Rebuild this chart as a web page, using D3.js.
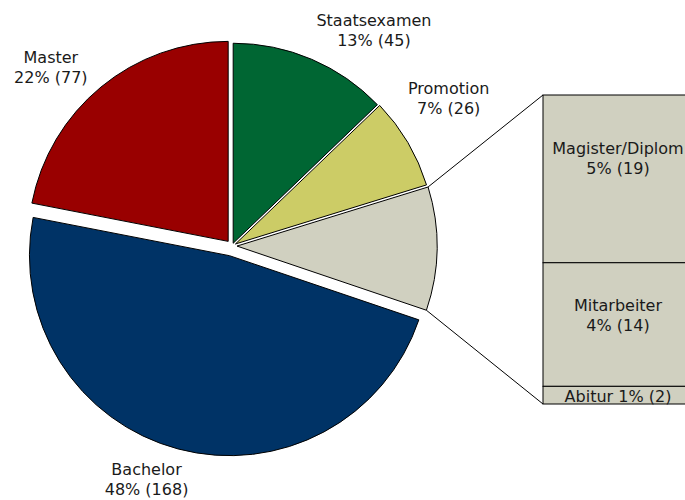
<!DOCTYPE html>
<html>
<head>
<meta charset="utf-8">
<script src="https://cdn.jsdelivr.net/npm/d3@7"></script>
<style>
  body { margin: 0; background: #fff; }
  text { font-family: "DejaVu Sans", Verdana, sans-serif; font-size: 16px; fill: #1a1a1a; }
</style>
</head>
<body>
<svg width="685" height="500"></svg>
<script>
// pie, clockwise from 12 o'clock
var pieNames  = ["Staatsexamen", "Promotion", "Sonstige", "Bachelor", "Master"];
var pieCounts = [45, 26, 35, 168, 77];
var pieColors = ["#006633", "#CCCC66", "#D0D0C0", "#003366", "#990000"];

// bar that breaks up the "Sonstige" slice, top to bottom
var barNames  = ["Magister/Diplom", "Mitarbeiter", "Abitur"];
var barCounts = [19, 14, 2];

var total = d3.sum(pieCounts);

var svg = d3.select("svg"),
    cx = 232, cy = 246, r = 200,
    barX = 543, barW = 150;

// how far each slice is pulled out
var explode = {Staatsexamen: 3, Promotion: 4, Sonstige: 5, Bachelor: 10, Master: 6};
// label tweaks (dx, dy) from the radial spot
var labelNudge = {Staatsexamen: [42, 19], Promotion: [-3, -19], Bachelor: [-20, -13], Master: [-19, 18]};

function pct(v) { return Math.round(v / total * 100) + "% (" + v + ")"; }
function dir(a) { return [Math.sin(a), -Math.cos(a)]; }

var pie = d3.pie().sort(null).value(function(d) { return d.count; });
var arc = d3.arc().innerRadius(0).outerRadius(r);

var slices = pie(pieNames.map(function(n, i) {
  return {name: n, count: pieCounts[i], color: pieColors[i]};
}));

slices.forEach(function(s) {
  var mid = (s.startAngle + s.endAngle) / 2,
      e = explode[s.data.name],
      d = dir(mid);
  s.mid = mid;
  s.ox = cx + d[0] * e;
  s.oy = cy + d[1] * e;
});

var g = svg.append("g");

g.selectAll("path.slice")
  .data(slices)
  .enter().append("path")
    .attr("class", "slice")
    .attr("transform", function(s) { return "translate(" + s.ox + "," + s.oy + ")"; })
    .attr("d", arc)
    .attr("fill", function(s) { return s.data.color; })
    .attr("stroke", "#000")
    .attr("stroke-width", 1)
    .attr("stroke-linejoin", "round");

// bar
var y = d3.scaleLinear().domain([0, d3.sum(barCounts)]).range([404, 95]);

var segs = [], acc = d3.sum(barCounts);
barNames.forEach(function(n, i) {
  segs.push({name: n, count: barCounts[i], top: acc, bottom: acc - barCounts[i]});
  acc -= barCounts[i];
});

svg.selectAll("rect.seg")
  .data(segs)
  .enter().append("rect")
    .attr("class", "seg")
    .attr("x", barX)
    .attr("y", function(d) { return y(d.top); })
    .attr("width", barW)
    .attr("height", function(d) { return y(d.bottom) - y(d.top); })
    .attr("fill", pieColors[2])
    .attr("stroke", "#000")
    .attr("stroke-width", 1);

// connector lines from the "Sonstige" slice to the bar
var other = slices[2];
[[other.startAngle, y.domain()[1]], [other.endAngle, 0]].forEach(function(p) {
  var d = dir(p[0]);
  svg.append("line")
    .attr("x1", other.ox + d[0] * r)
    .attr("y1", other.oy + d[1] * r)
    .attr("x2", barX)
    .attr("y2", y(p[1]))
    .attr("stroke", "#000")
    .attr("stroke-width", 1);
});

// pie labels
slices.forEach(function(s) {
  if (!labelNudge[s.data.name]) return;
  var d = dir(s.mid), n = labelNudge[s.data.name],
      lx = cx + d[0] * 255 + n[0],
      ly = cy + d[1] * 255 + n[1];
  var t = svg.append("text").attr("text-anchor", "middle");
  t.append("tspan").attr("x", lx).attr("y", ly - 4).text(s.data.name);
  t.append("tspan").attr("x", lx).attr("y", ly + 16).text(pct(s.data.count));
});

// bar labels
var barNudge = {"Magister/Diplom": -21, "Mitarbeiter": -10, "Abitur": 1};
segs.forEach(function(s) {
  var lx = barX + barW / 2,
      ly = (y(s.top) + y(s.bottom)) / 2 + barNudge[s.name];
  var t = svg.append("text").attr("text-anchor", "middle");
  if (s.count / total < 0.02) {
    t.attr("x", lx).attr("y", ly + 6).text(s.name + " " + pct(s.count));
  } else {
    t.append("tspan").attr("x", lx).attr("y", ly - 4).text(s.name);
    t.append("tspan").attr("x", lx).attr("y", ly + 16).text(pct(s.count));
  }
});
</script>
</body>
</html>
